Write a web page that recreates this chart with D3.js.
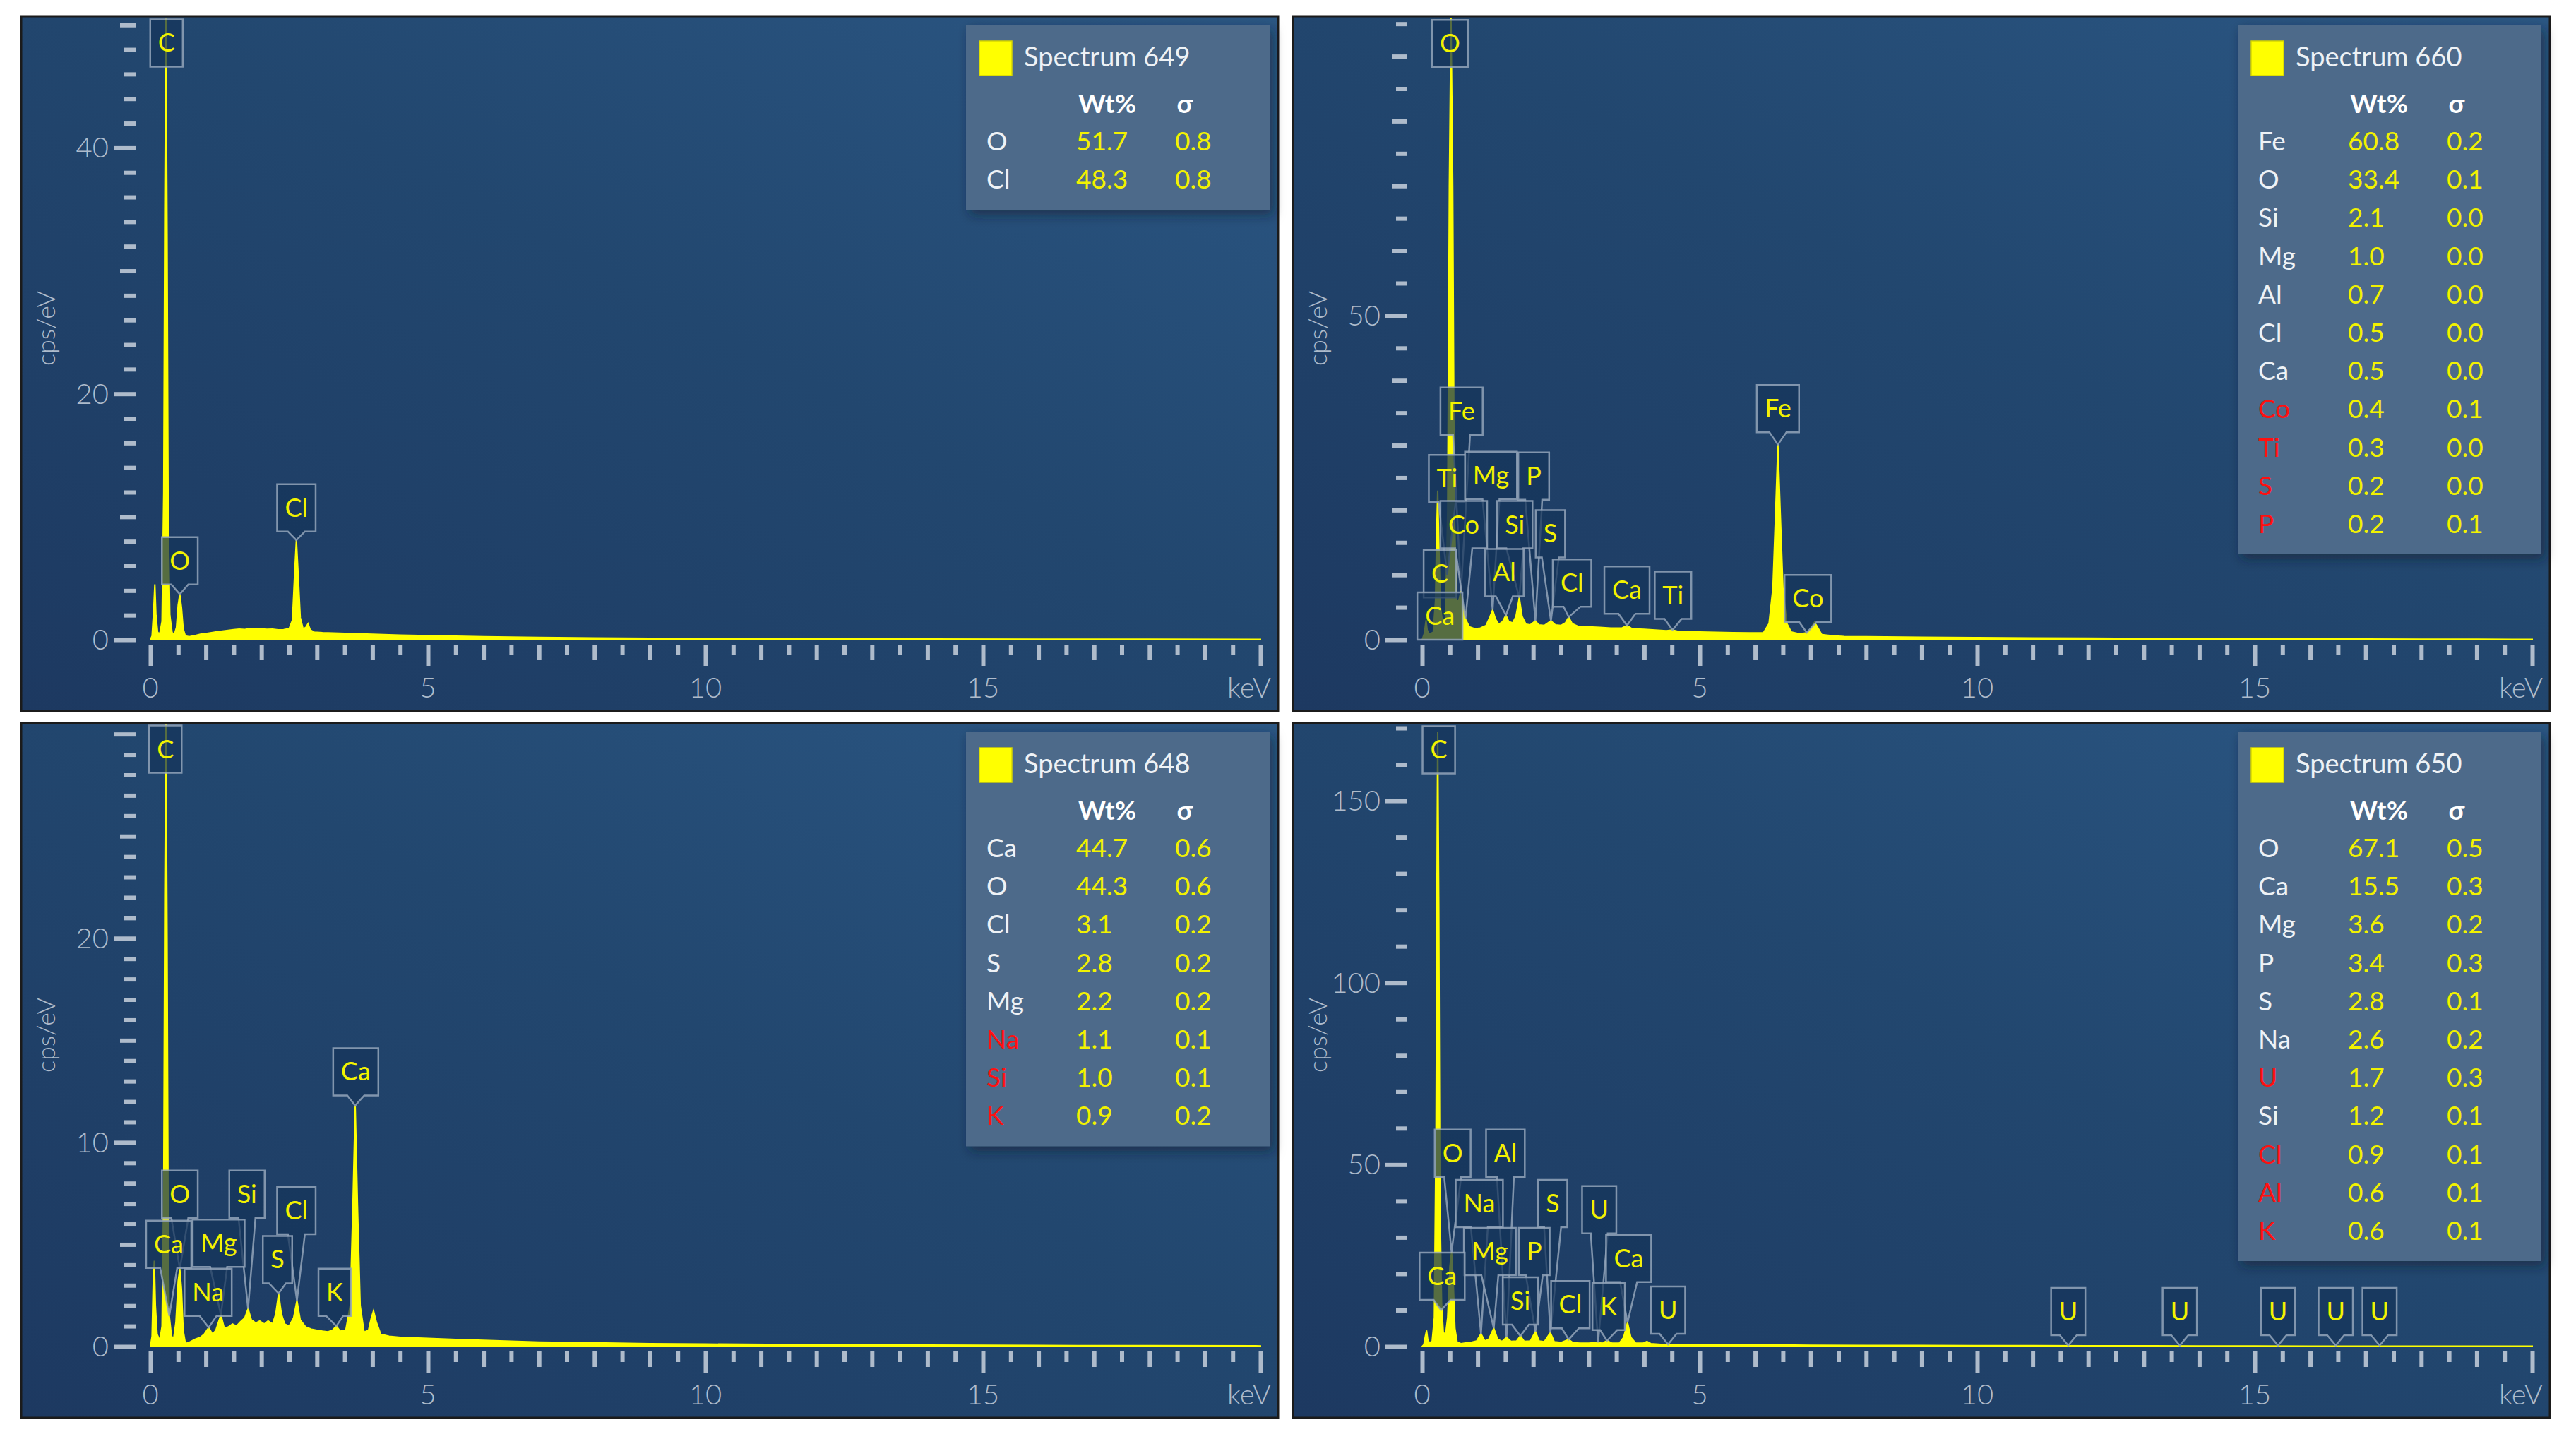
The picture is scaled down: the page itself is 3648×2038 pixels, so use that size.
<!DOCTYPE html>
<html>
<head>
<meta charset="utf-8">
<script src="https://cdn.jsdelivr.net/npm/d3@7"></script>
<style>
  body { margin: 0; background: #fff; }
  svg { display: block; }
  text { font-family: Lato, "Open Sans", sans-serif; }
</style>
</head>
<body>
<svg id="chart" width="3648" height="2038"></svg>
<script>
// ---- spectra, [keV, cps/eV] ----
const spec649 = [[0,0],[0.03,0.3],[0.06,2.5],[0.08,4.5],[0.10,2.0],[0.13,0.6],[0.17,0.5],[0.21,1.5],[0.24,12],[0.26,35],[0.28,50.5],[0.30,33],[0.32,10],[0.35,2],[0.39,0.6],[0.43,0.4],[0.47,1.0],[0.50,2.8],[0.53,3.7],[0.56,2.6],[0.59,0.9],[0.63,0.3],[0.7,0.25],[0.8,0.33],[0.9,0.45],[1.0,0.5],[1.1,0.58],[1.2,0.64],[1.3,0.7],[1.4,0.76],[1.5,0.82],[1.6,0.86],[1.7,0.83],[1.8,0.9],[1.9,0.86],[2.0,0.88],[2.1,0.84],[2.2,0.86],[2.3,0.8],[2.4,0.82],[2.5,0.9],[2.56,1.6],[2.6,5.5],[2.63,8.1],[2.66,5.5],[2.7,1.8],[2.75,0.9],[2.8,1.0],[2.84,1.3],[2.88,0.8],[2.95,0.62],[3.1,0.58],[3.3,0.55],[3.5,0.52],[3.8,0.48],[4.0,0.44],[4.5,0.38],[5,0.33],[5.5,0.28],[6,0.24],[7,0.19],[8,0.15],[9,0.12],[10,0.1],[12,0.08],[14,0.06],[16,0.05],[18,0.04],[20,0.03]];

const spec660 = [[0,0],[0.04,1],[0.07,3],[0.09,1.5],[0.13,0.8],[0.2,1.2],[0.24,6],[0.26,16],[0.28,23],[0.30,15],[0.33,5],[0.37,2.5],[0.42,3],[0.46,20],[0.49,70],[0.52,96],[0.55,70],[0.58,20],[0.62,6],[0.66,6],[0.70,7.5],[0.74,5],[0.78,3.2],[0.85,2],[0.95,1.7],[1.05,1.8],[1.15,2.2],[1.22,3.5],[1.27,4.6],[1.32,3.2],[1.38,2.4],[1.45,2.8],[1.51,3.8],[1.56,2.8],[1.63,2.6],[1.69,3.6],[1.75,6.5],[1.80,3.6],[1.87,2.4],[1.95,2.3],[2.04,2.9],[2.1,2.3],[2.2,2.2],[2.32,2.9],[2.4,2.3],[2.5,2.2],[2.58,2.6],[2.64,3.5],[2.70,2.5],[2.8,2.1],[3.0,2.0],[3.2,1.9],[3.4,1.8],[3.6,1.8],[3.69,2.2],[3.78,1.7],[4.0,1.6],[4.2,1.5],[4.4,1.4],[4.51,1.5],[4.6,1.3],[4.8,1.25],[5.0,1.2],[5.3,1.15],[5.6,1.1],[5.9,1.05],[6.15,1.1],[6.25,2.5],[6.32,8],[6.37,20],[6.41,30.1],[6.45,20],[6.50,8],[6.57,2.5],[6.65,1.2],[6.8,0.9],[6.95,1.1],[7.02,2.0],[7.07,2.7],[7.12,2.0],[7.2,0.8],[7.4,0.6],[7.6,0.5],[8,0.45],[9,0.38],[10,0.33],[11,0.28],[12,0.24],[13,0.2],[14,0.17],[15,0.14],[16,0.12],[17,0.1],[18,0.08],[19,0.07],[20,0.06]];

const spec648 = [[0,0],[0.03,0.5],[0.05,3],[0.07,4.2],[0.09,2],[0.12,0.6],[0.17,0.3],[0.21,1],[0.24,8],[0.26,22],[0.28,30.5],[0.30,20],[0.32,6],[0.34,1.5],[0.38,0.5],[0.42,0.4],[0.46,1.2],[0.50,3.2],[0.53,3.8],[0.56,2.8],[0.59,0.8],[0.63,0.15],[0.7,0.2],[0.8,0.35],[0.9,0.45],[0.97,0.6],[1.05,0.93],[1.12,0.6],[1.18,0.8],[1.27,1.55],[1.33,0.9],[1.4,0.95],[1.48,1.1],[1.55,1.0],[1.62,1.2],[1.7,1.4],[1.76,1.85],[1.82,1.3],[1.9,1.15],[1.97,1.25],[2.05,1.1],[2.12,1.25],[2.2,1.1],[2.26,1.6],[2.31,2.6],[2.36,1.6],[2.42,1.1],[2.5,1.0],[2.58,1.4],[2.64,2.25],[2.7,1.3],[2.8,0.95],[2.9,0.85],[3.0,0.8],[3.1,0.75],[3.2,0.72],[3.28,0.8],[3.35,1.0],[3.42,0.75],[3.52,0.8],[3.6,2],[3.65,7],[3.69,11.8],[3.73,7],[3.78,2],[3.85,0.7],[3.93,0.8],[3.98,1.4],[4.02,1.75],[4.07,1.2],[4.15,0.6],[4.3,0.5],[4.5,0.45],[5,0.4],[5.5,0.35],[6,0.3],[7,0.22],[8,0.18],[9,0.14],[10,0.12],[12,0.09],[14,0.07],[16,0.05],[18,0.04],[20,0.03]];

const spec650 = [[0,0],[0.03,0.5],[0.06,3],[0.08,4.4],[0.10,2],[0.13,1],[0.18,1.5],[0.22,8],[0.25,60],[0.27,140],[0.28,169],[0.30,120],[0.32,40],[0.35,12],[0.38,4],[0.42,3],[0.46,8],[0.50,22],[0.53,26],[0.56,18],[0.59,5],[0.63,1.2],[0.7,0.8],[0.8,1.0],[0.9,1.2],[0.98,1.5],[1.06,3.5],[1.13,1.5],[1.2,2.0],[1.29,5],[1.36,2],[1.44,1.4],[1.52,2.5],[1.6,1.4],[1.7,1.5],[1.77,2.9],[1.84,1.4],[1.95,1.5],[2.04,4.1],[2.11,1.5],[2.2,1.3],[2.31,3.8],[2.38,1.3],[2.5,1.1],[2.64,1.9],[2.72,1.0],[2.85,0.9],[3.0,0.9],[3.17,1.1],[3.25,0.9],[3.33,1.6],[3.42,0.9],[3.55,0.9],[3.63,2.5],[3.70,6.6],[3.76,2.5],[3.85,0.9],[3.98,0.9],[4.05,1.4],[4.12,0.8],[4.3,0.6],[4.5,0.5],[5,0.45],[6,0.4],[7,0.35],[8,0.3],[9,0.28],[10,0.25],[11,0.22],[12,0.2],[13,0.18],[14,0.16],[15,0.14],[16,0.12],[17,0.11],[18,0.1],[19,0.09],[20,0.08]];

// ---- peak labels: element, peak keV / height, label box anchor (keV, cps of box bottom) ----
const labels649 = [
  {el:"C", e:0.28, h:50.5, bx:0.29, by:46.6},
  {el:"O", e:0.53, h:3.7, bx:0.53, by:4.5},
  {el:"Cl", e:2.63, h:8.1, bx:2.63, by:8.8}
];
const labels660 = [
  {el:"O", e:0.52, h:96, bx:0.50, by:88.3},
  {el:"Fe", e:0.70, h:7.5, bx:0.71, by:31.6},
  {el:"Ti", e:0.45, h:10, bx:0.45, by:21.2},
  {el:"Mg", e:1.27, h:4.6, bx:1.24, by:21.7},
  {el:"P", e:2.04, h:2.9, bx:2.01, by:21.6},
  {el:"Co", e:0.78, h:3.2, bx:0.75, by:14.1},
  {el:"Si", e:1.75, h:6.5, bx:1.67, by:14.1},
  {el:"S", e:2.32, h:2.9, bx:2.31, by:12.7},
  {el:"C", e:0.28, h:23, bx:0.32, by:6.5},
  {el:"Al", e:1.51, h:3.8, bx:1.48, by:6.7},
  {el:"Cl", e:2.64, h:3.5, bx:2.70, by:5.1},
  {el:"Ca", e:0.34, h:2.5, bx:0.32, by:0},
  {el:"Ca", e:3.69, h:2.2, bx:3.69, by:4.0},
  {el:"Ti", e:4.51, h:1.5, bx:4.52, by:3.2},
  {el:"Fe", e:6.41, h:30.1, bx:6.41, by:32},
  {el:"Co", e:6.93, h:1.1, bx:6.95, by:2.7}
];
const labels648 = [
  {el:"C", e:0.28, h:30.5, bx:0.27, by:28.1},
  {el:"Ca", e:3.69, h:11.8, bx:3.70, by:12.3},
  {el:"O", e:0.53, h:3.8, bx:0.53, by:6.3},
  {el:"Si", e:1.76, h:1.85, bx:1.74, by:6.3},
  {el:"Cl", e:2.64, h:2.25, bx:2.63, by:5.5},
  {el:"Ca", e:0.34, h:1.5, bx:0.33, by:3.85},
  {el:"Mg", e:1.27, h:1.55, bx:1.23, by:3.9},
  {el:"Na", e:1.05, h:0.93, bx:1.04, by:1.5},
  {el:"S", e:2.31, h:2.6, bx:2.29, by:3.1},
  {el:"K", e:3.35, h:1.0, bx:3.32, by:1.5}
];
const labels650 = [
  {el:"C", e:0.28, h:169, bx:0.30, by:157.5},
  {el:"O", e:0.53, h:26, bx:0.55, by:46.6},
  {el:"Al", e:1.52, h:2.5, bx:1.50, by:46.6},
  {el:"Na", e:1.06, h:3.5, bx:1.03, by:32.8},
  {el:"S", e:2.31, h:3.8, bx:2.35, by:32.8},
  {el:"U", e:3.17, h:1.1, bx:3.19, by:31.1},
  {el:"Mg", e:1.29, h:5, bx:1.22, by:19.6},
  {el:"P", e:2.04, h:4.1, bx:2.02, by:19.6},
  {el:"Ca", e:0.34, h:10, bx:0.36, by:12.8},
  {el:"Ca", e:3.70, h:6.6, bx:3.72, by:17.7},
  {el:"Si", e:1.77, h:2.9, bx:1.77, by:6.0},
  {el:"Cl", e:2.64, h:1.9, bx:2.67, by:5.0},
  {el:"K", e:3.33, h:1.6, bx:3.36, by:4.5},
  {el:"U", e:4.43, h:0.6, bx:4.43, by:3.5},
  {el:"U", e:11.64, h:0.3, bx:11.64, by:3.1},
  {el:"U", e:13.65, h:0.3, bx:13.65, by:3.1},
  {el:"U", e:15.42, h:0.3, bx:15.42, by:3.1},
  {el:"U", e:16.46, h:0.3, bx:16.46, by:3.1},
  {el:"U", e:17.25, h:0.3, bx:17.25, by:3.1}
];

// ---- quantification tables: element, Wt%, sigma, flagged ----
const rows649 = [["O",51.7,0.8,false],["Cl",48.3,0.8,false]];
const rows660 = [["Fe",60.8,0.2,false],["O",33.4,0.1,false],["Si",2.1,0.0,false],["Mg",1.0,0.0,false],["Al",0.7,0.0,false],["Cl",0.5,0.0,false],["Ca",0.5,0.0,false],["Co",0.4,0.1,true],["Ti",0.3,0.0,true],["S",0.2,0.0,true],["P",0.2,0.1,true]];
const rows648 = [["Ca",44.7,0.6,false],["O",44.3,0.6,false],["Cl",3.1,0.2,false],["S",2.8,0.2,false],["Mg",2.2,0.2,false],["Na",1.1,0.1,true],["Si",1.0,0.1,true],["K",0.9,0.2,true]];
const rows650 = [["O",67.1,0.5,false],["Ca",15.5,0.3,false],["Mg",3.6,0.2,false],["P",3.4,0.3,false],["S",2.8,0.1,false],["Na",2.6,0.2,false],["U",1.7,0.3,true],["Si",1.2,0.1,false],["Cl",0.9,0.1,true],["Al",0.6,0.1,true],["K",0.6,0.1,true]];

const xTickLabels = [0, 5, 10, 15];

const panels = [
  {left:30,   top:23,   spec:spec649, labels:labels649, rows:rows649, title:"Spectrum 649", yMax:50.3, yt:[2,10,20]},
  {left:1831, top:23,   spec:spec660, labels:labels660, rows:rows660, title:"Spectrum 660", yMax:95.4, yt:[5,10,50]},
  {left:30,   top:1024, spec:spec648, labels:labels648, rows:rows648, title:"Spectrum 648", yMax:30.3, yt:[1,5,10]},
  {left:1831, top:1024, spec:spec650, labels:labels650, rows:rows650, title:"Spectrum 650", yMax:170,  yt:[10,50,50]}
];

const PW = 1780, PH = 984;
const tickColor = "#aebbcb";
const yellow = "#f2f200";

const svg = d3.select("#chart");
const defs = svg.append("defs");

let grad = defs.append("linearGradient").attr("id", "bg")
  .attr("x1", 0).attr("y1", 1).attr("x2", 1).attr("y2", 0);
grad.append("stop").attr("offset", 0).attr("stop-color", "#1d3961");
grad.append("stop").attr("offset", 0.55).attr("stop-color", "#22476f");
grad.append("stop").attr("offset", 1).attr("stop-color", "#2b5784");

let shadow = defs.append("filter").attr("id", "shadow")
  .attr("x", -0.1).attr("y", -0.1).attr("width", 1.3).attr("height", 1.3);
shadow.append("feDropShadow").attr("dx", 5).attr("dy", 7).attr("stdDeviation", 8)
  .attr("flood-color", "#0a1a30").attr("flood-opacity", 0.55);

const isMult = (v, s) => Math.abs(v / s - Math.round(v / s)) < 1e-6;

panels.forEach((p, i) => {
  let g = svg.append("g");
  let zeroY = p.top + 883;
  let x = d3.scaleLinear().domain([0, 20]).range([p.left + 183, p.left + 1755]);
  let y = d3.scaleLinear().domain([0, p.yMax]).range([zeroY, p.top + 7]);

  // background and frame
  g.append("rect").attr("x", p.left).attr("y", p.top).attr("width", PW).attr("height", PH)
    .attr("fill", "url(#bg)").attr("stroke", "#1b1b1b").attr("stroke-width", 3);

  defs.append("clipPath").attr("id", "clip" + i).append("rect")
    .attr("x", p.left + 2).attr("y", p.top + 2).attr("width", PW - 4).attr("height", PH - 4);

  // y ticks: minor / mid / major
  let yAll = d3.range(0, p.yMax + 1e-6, p.yt[0]);
  let yGroups = [
    [yAll.filter(v => !isMult(v, p.yt[1]) && !isMult(v, p.yt[2])), 16],
    [yAll.filter(v => isMult(v, p.yt[1]) && !isMult(v, p.yt[2])), 22],
    [yAll.filter(v => isMult(v, p.yt[2])), 31]
  ];
  yGroups.forEach(([vals, len]) => {
    let ax = g.append("g").attr("transform", `translate(${p.left + 162},0)`)
      .call(d3.axisLeft(y).tickValues(vals).tickSize(len).tickFormat(""));
    ax.select(".domain").remove();
    ax.selectAll("line").attr("stroke", tickColor).attr("stroke-width", 6);
  });
  // no number on a tick that sits against the top edge
  let yLabelled = yGroups[2][0].filter(v => y(v) > p.top + 40);
  g.selectAll(".ylab").data(yLabelled).enter().append("text")
    .attr("x", p.left + 124).attr("y", d => y(d)).attr("dy", "0.35em")
    .attr("text-anchor", "end").attr("font-size", 40).attr("font-weight", 300)
    .attr("fill", tickColor).text(d => d);

  // x ticks: half keV / keV / 5 keV
  let xAll = d3.range(0, 20.001, 0.5);
  let xGroups = [
    [xAll.filter(v => !isMult(v, 1)), 15],
    [xAll.filter(v => isMult(v, 1) && !isMult(v, 5)), 22],
    [xAll.filter(v => isMult(v, 5)), 30]
  ];
  xGroups.forEach(([vals, len]) => {
    let ax = g.append("g").attr("transform", `translate(0,${zeroY + 7})`)
      .call(d3.axisBottom(x).tickValues(vals).tickSize(len).tickFormat(""));
    ax.select(".domain").remove();
    ax.selectAll("line").attr("stroke", tickColor).attr("stroke-width", 6);
  });
  g.selectAll(".xlab").data(xTickLabels).enter().append("text")
    .attr("x", d => x(d)).attr("y", zeroY + 82)
    .attr("text-anchor", "middle").attr("font-size", 40).attr("font-weight", 300)
    .attr("fill", tickColor).text(d => d);
  g.append("text").attr("x", p.left + 1770).attr("y", zeroY + 82)
    .attr("text-anchor", "end").attr("font-size", 40).attr("font-weight", 300)
    .attr("fill", tickColor).text("keV");
  g.append("text")
    .attr("transform", `translate(${p.left + 35},${p.top + 442}) rotate(-90)`)
    .attr("dy", "0.35em").attr("text-anchor", "middle").attr("font-size", 36)
    .attr("font-weight", 300).attr("fill", tickColor).text("cps/eV");

  // spectrum
  let area = d3.area().x(d => x(d[0])).y0(zeroY).y1(d => y(d[1]));
  g.append("path").datum(p.spec).attr("d", area)
    .attr("clip-path", `url(#clip${i})`)
    .attr("fill", "#ffff00").attr("stroke", "#ffff00").attr("stroke-width", 2);

  // peak labels
  p.labels.forEach(l => {
    let lg = g.append("g").attr("clip-path", `url(#clip${i})`);
    let box = lg.append("path");
    let t = lg.append("text").attr("font-size", 36).attr("fill", yellow)
      .attr("text-anchor", "middle").text(l.el);
    let cx = x(l.bx), bottom = y(l.by), top = bottom - 67;
    let w = t.node().getComputedTextLength() + 22;
    let x0 = cx - w / 2, x1 = cx + w / 2;
    let tx = x(l.e), ty = y(l.h);
    let d;
    if (ty > bottom + 4) {
      d = `M${x0},${top}H${x1}V${bottom}H${cx + 12}L${tx},${ty}L${cx - 12},${bottom}H${x0}Z`;
    } else {
      d = `M${x0},${top}H${x1}V${bottom}H${x0}Z`;
    }
    box.attr("d", d).attr("fill", "#15345a").attr("fill-opacity", 0.72)
      .attr("stroke", "#93a5ba").attr("stroke-opacity", 0.85).attr("stroke-width", 2.5);
    t.attr("x", cx).attr("y", top + 46);
  });

  // quantification table
  let lh = 165 + (p.rows.length - 1) * 54.2 + 43;
  let leg = g.append("g").attr("transform", `translate(${p.left + 1338},${p.top + 12})`);
  leg.append("rect").attr("width", 430).attr("height", lh)
    .attr("fill", "#4e6a8a").attr("filter", "url(#shadow)");
  leg.append("rect").attr("x", 19).attr("y", 23).attr("width", 46).attr("height", 49)
    .attr("fill", "#ffff00").attr("stroke", "#d6d600").attr("stroke-width", 1.5);
  leg.append("text").attr("x", 82).attr("y", 46).attr("dy", "0.35em")
    .attr("font-size", 38).attr("fill", "#eef2f6").text(p.title);
  leg.append("text").attr("x", 200).attr("y", 112).attr("dy", "0.35em")
    .attr("text-anchor", "middle").attr("font-size", 37).attr("font-weight", 700)
    .attr("fill", "#ffffff").text("Wt%");
  leg.append("text").attr("x", 310).attr("y", 112).attr("dy", "0.35em")
    .attr("text-anchor", "middle").attr("font-size", 37).attr("font-weight", 700)
    .attr("fill", "#ffffff").text("σ");
  let rowsG = leg.selectAll(".row").data(p.rows).enter().append("g")
    .attr("transform", (d, k) => `translate(0,${165 + k * 54.2})`);
  rowsG.append("text").attr("x", 29).attr("dy", "0.35em").attr("font-size", 37)
    .attr("fill", d => d[3] ? "#ff1010" : "#eef2f6").text(d => d[0]);
  rowsG.append("text").attr("x", 156).attr("dy", "0.35em").attr("font-size", 37)
    .attr("fill", yellow).text(d => d[1].toFixed(1));
  rowsG.append("text").attr("x", 296).attr("dy", "0.35em").attr("font-size", 37)
    .attr("fill", yellow).text(d => d[2].toFixed(1));
});
</script>
</body>
</html>
